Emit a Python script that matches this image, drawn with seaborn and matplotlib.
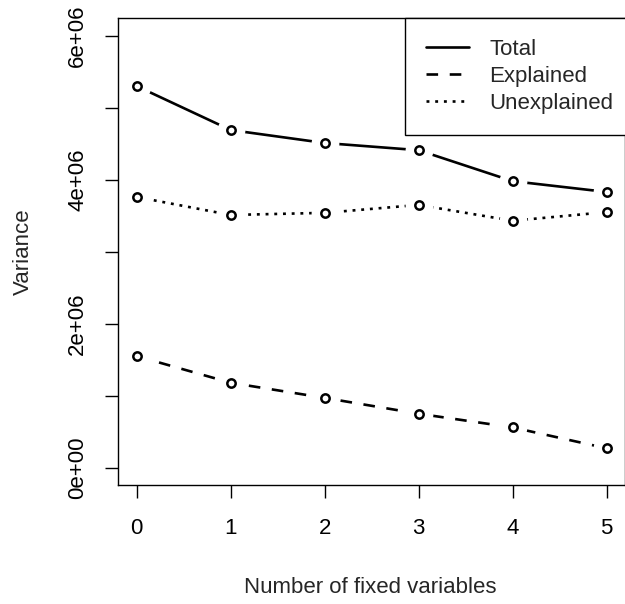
import matplotlib
matplotlib.use('Agg')
import matplotlib.pyplot as plt
from matplotlib.lines import Line2D
import seaborn as sns
import pandas as pd

# values
fixed_vars = [0, 1, 2, 3, 4, 5]
total = [5.30e6, 4.69e6, 4.51e6, 4.41e6, 3.98e6, 3.83e6]
explained = [1.55e6, 1.18e6, 0.97e6, 0.75e6, 0.56e6, 0.27e6]
unexplained = [3.76e6, 3.51e6, 3.54e6, 3.65e6, 3.43e6, 3.55e6]
components = ['Total', 'Explained', 'Unexplained']
y_ticks = [0, 1e6, 2e6, 3e6, 4e6, 5e6, 6e6]
y_labels = ['0e+00', '', '2e+06', '', '4e+06', '', '6e+06']

df = pd.DataFrame({
    'fixed': fixed_vars * 3,
    'variance': total + explained + unexplained,
    'component': [c for c in components for _ in fixed_vars],
})

sns.set_style('white')
plt.rcParams['font.family'] = ['Liberation Sans', 'DejaVu Sans']

fig = plt.figure(figsize=(6.25, 6.04), dpi=100)
ax = fig.add_axes([0.1886, 0.197, 0.812, 0.7725])

LW = 1.9
dash_map = {'Total': '', 'Explained': (4.4, 4.4), 'Unexplained': (1.1, 2.2)}

sns.lineplot(data=df, x='fixed', y='variance', style='component',
             style_order=components, dashes=dash_map, color='black',
             linewidth=LW, legend=False, ax=ax)
for ln in ax.lines:
    ln.set_zorder(1)

# white halo around points, like R type="b"
sns.scatterplot(data=df, x='fixed', y='variance', s=20 ** 2,
                color='white', edgecolor='white', linewidth=0,
                legend=False, ax=ax)
ax.collections[-1].set_zorder(3)
sns.scatterplot(data=df, x='fixed', y='variance', s=6.0 ** 2, color='white',
                edgecolor='black', linewidth=1.8, legend=False, ax=ax)
ax.collections[-1].set_zorder(4)

ax.set_xlim(-0.2, 5.2)
ax.set_ylim(-0.24e6, 6.24e6)
ax.set_xticks(fixed_vars)
ax.set_xticklabels([str(v) for v in fixed_vars], fontsize=16)
ax.set_yticks(y_ticks)
ax.set_yticklabels(y_labels, fontsize=16, rotation=90, va='center')
ax.tick_params(axis='both', bottom=True, left=True, direction='out',
               length=9.5, width=1.0, color='black', labelcolor='black')
ax.tick_params(axis='x', pad=14)
ax.tick_params(axis='y', pad=12)

for sp in ax.spines.values():
    sp.set_visible(True)
    sp.set_color('black')
    sp.set_linewidth(1.0)

ax.set_xlabel('Number of fixed variables', fontsize=16, va='center')
ax.xaxis.set_label_coords(0.498, -0.2207)
ax.set_ylabel('Variance', fontsize=16, va='center')
ax.yaxis.set_label_coords(-0.187, 0.5)

handles = [
    Line2D([], [], color='black', lw=LW, linestyle='-'),
    Line2D([], [], color='black', lw=LW, linestyle=(0, (4.4, 4.4))),
    Line2D([], [], color='black', lw=LW, linestyle=(0, (1.1, 2.2))),
]
leg = ax.legend(handles, components, loc='upper left',
                bbox_to_anchor=(405 / 625, 1 - 18 / 604),
                bbox_transform=fig.transFigure, frameon=True, fancybox=False,
                edgecolor='black', framealpha=1, borderaxespad=0,
                handlelength=1.94, handletextpad=0.9, borderpad=0.95,
                labelspacing=0.26, fontsize=16)
leg.get_frame().set_linewidth(1.0)
leg.set_zorder(5)

fig.savefig('out.png', dpi=100)
